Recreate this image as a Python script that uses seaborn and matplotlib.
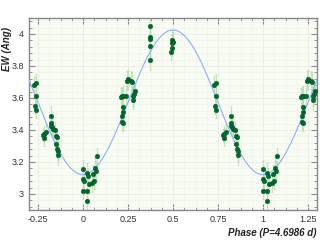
import matplotlib
matplotlib.use("Agg")
import matplotlib.pyplot as plt
from matplotlib.ticker import MultipleLocator
import numpy as np
import pandas as pd
import seaborn as sns

# Phase-folded measurements (phase in [0, 1), equivalent width in Angstrom)
phase = [0.730, 0.738, 0.741, 0.732, 0.740,
         0.786, 0.795, 0.780, 0.786, 0.823, 0.823, 0.823, 0.830, 0.835, 0.845,
         0.850, 0.858, 0.852, 0.858, 0.863, 0.863,
         0.002, 0.999, 0.006, 0.002, 0.024, 0.029, 0.024, 0.024, 0.035, 0.054,
         0.048, 0.061, 0.066, 0.072, 0.076,
         0.216, 0.212, 0.223, 0.242, 0.248, 0.268, 0.273, 0.288, 0.284, 0.279,
         0.279, 0.238, 0.220, 0.220, 0.216, 0.216, 0.223,
         0.371, 0.371, 0.371, 0.370, 0.372,
         0.497, 0.500, 0.495, 0.497, 0.491]
ew = [3.680, 3.693, 3.614, 3.547, 3.522,
      3.374, 3.388, 3.369, 3.349, 3.488, 3.443, 3.422, 3.416, 3.405, 3.401,
      3.363, 3.359, 3.311, 3.284, 3.269, 3.242,
      3.155, 3.092, 3.081, 3.019, 3.134, 3.113, 3.019, 2.956, 3.065, 3.123,
      3.071, 3.081, 3.165, 3.144, 3.238,
      3.610, 3.604, 3.614, 3.708, 3.718, 3.708, 3.701, 3.645, 3.624, 3.610,
      3.589, 3.614, 3.541, 3.510, 3.485, 3.447, 3.443,
      4.048, 3.979, 3.969, 3.923, 3.837,
      3.964, 3.952, 3.944, 3.910, 3.885]
err = [0.06, 0.06, 0.05, 0.05, 0.05,
       0.05, 0.05, 0.04, 0.05, 0.06, 0.05, 0.05, 0.05, 0.05, 0.05,
       0.05, 0.05, 0.06, 0.06, 0.06, 0.06,
       0.06, 0.06, 0.05, 0.05, 0.06, 0.05, 0.06, 0.06, 0.06, 0.06,
       0.06, 0.05, 0.06, 0.06, 0.05,
       0.06, 0.06, 0.06, 0.06, 0.06, 0.06, 0.06, 0.05, 0.05, 0.06,
       0.06, 0.06, 0.05, 0.05, 0.05, 0.05, 0.05,
       0.05, 0.06, 0.06, 0.06, 0.06,
       0.06, 0.06, 0.05, 0.05, 0.05]

# sinusoidal fit
fit_mean = 3.573
fit_amp = 0.452

xmin, xmax = -0.3, 1.3

df = pd.DataFrame({"phase": phase, "ew": ew, "err": err})
parts = []
for shift in (-1, 0, 1):
    d = df.copy()
    d["phase"] = d["phase"] + shift
    parts.append(d)
df_all = pd.concat(parts)
df_all = df_all[(df_all.phase >= xmin) & (df_all.phase <= xmax)]

fx = np.linspace(xmin, xmax, 400)
df_fit = pd.DataFrame({"phase": fx, "ew": fit_mean - fit_amp * np.cos(2 * np.pi * fx)})

sns.set_style("ticks")
plt.rcParams["font.family"] = ["Liberation Sans", "DejaVu Sans"]

fig = plt.figure(figsize=(3.27, 2.4), dpi=100)
ax = fig.add_axes([29 / 327, 30 / 240, 288 / 327, 192 / 240])
ax.set_facecolor("#f8fcf3")

ax.errorbar(df_all.phase, df_all.ew, yerr=df_all.err, fmt="none",
            ecolor="#b4d9ab", elinewidth=0.9, capsize=1.0, capthick=0.6, alpha=0.7, zorder=2)
sns.lineplot(data=df_fit, x="phase", y="ew", ax=ax, color="#8eaef5", linewidth=0.8, zorder=3)
sns.scatterplot(data=df_all, x="phase", y="ew", ax=ax, color="#006a2e", s=11,
                edgecolor="#005a25", linewidth=0.3, zorder=4)

ax.set_xlim(xmin, xmax)
ax.set_ylim(2.9, 4.1)
ax.xaxis.set_minor_locator(MultipleLocator(0.0625))
ax.yaxis.set_minor_locator(MultipleLocator(0.04))
ax.set_xticks([-0.25, 0, 0.25, 0.5, 0.75, 1, 1.25])
ax.set_xticklabels(["-0.25", "0", "0.25", "0.5", "0.75", "1", "1.25"])
ax.set_yticks([3, 3.2, 3.4, 3.6, 3.8, 4])
ax.set_yticklabels(["3", "3.2", "3.4", "3.6", "3.8", "4"])

ax.grid(True, which="major", color="#e8ece5", linewidth=0.6)
ax.grid(True, which="minor", color="#f0f3ed", linewidth=0.5)
ax.set_axisbelow(True)

ax.tick_params(which="both", direction="in", top=True, right=True, colors="#888888",
               labelcolor="#333333", labelsize=6.5)
ax.tick_params(which="major", length=4, width=0.8)
ax.tick_params(which="minor", length=2.5, width=0.6)
for s in ax.spines.values():
    s.set_color("#888888")
    s.set_linewidth(1.0)

ax.set_xlabel("Phase (P=4.6986 d)", fontsize=7, fontweight="bold", style="italic",
              color="#222222", loc="right", labelpad=3)
ax.set_ylabel("EW (Ang)", fontsize=7, fontweight="bold", style="italic",
              color="#222222")
ax.yaxis.set_label_coords(-0.058, 0.84)

fig.savefig("out.png", dpi=100)
